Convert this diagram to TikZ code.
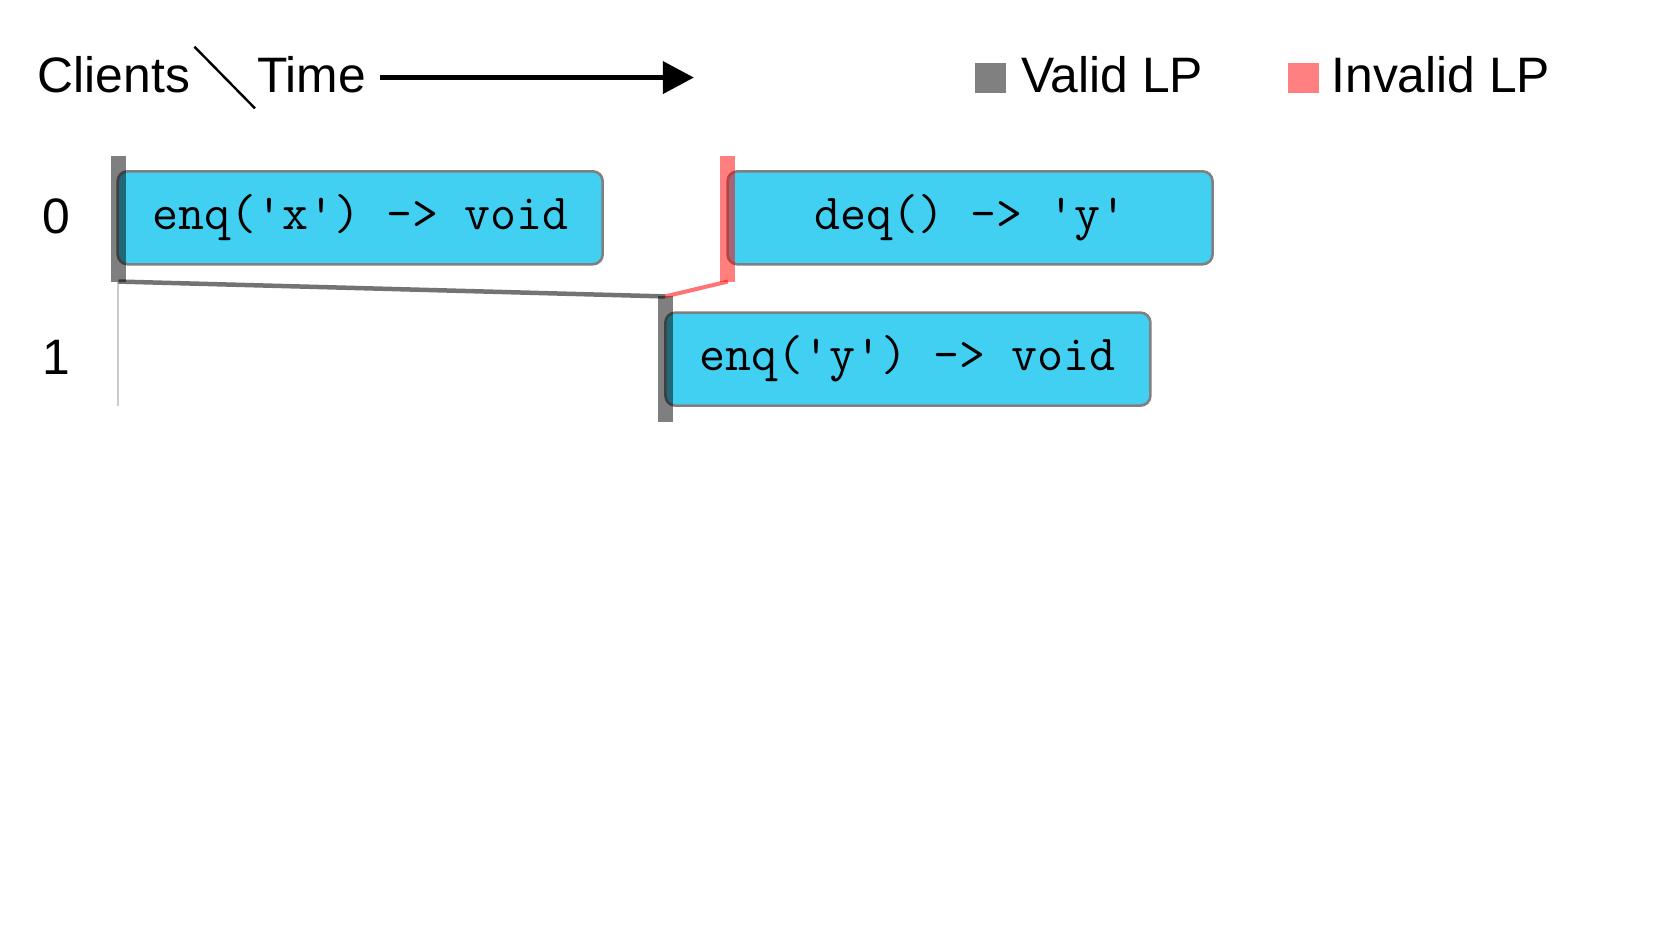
\documentclass[tikz,border=0pt]{standalone}
\usepackage{fontspec}
\setmainfont{Liberation Sans}
\usetikzlibrary{arrows.meta}
\definecolor{opfill}{RGB}{66,208,242}
\definecolor{opborder}{RGB}{128,128,128}
\definecolor{validc}{RGB}{128,128,128}
\definecolor{invalidc}{RGB}{255,128,128}
\begin{document}
\begin{tikzpicture}[x=1.0625pt,y=-1.0625pt,
  lbl/.style={font=\fontsize{49.8}{58}\selectfont, inner sep=0pt, anchor=base west},
  opbox/.style={draw=opborder, fill=opfill, line width=2.6pt, rounded corners=10pt,
    minimum width=485pt, minimum height=93pt, inner sep=0pt,
    font=\ttfamily\fontsize{50.5}{56}\selectfont},
  validbar/.style={fill=black, fill opacity=0.5},
  invalidbar/.style={fill=red, fill opacity=0.5},
  validlink/.style={draw=black, draw opacity=0.55, line width=4.5pt},
  invalidlink/.style={draw=red, draw opacity=0.55, line width=4pt},
  lifeline/.style={draw=black!20, line width=2pt}]
\useasboundingbox (0,0) rectangle (1568,882);
\fill[white] (0,0) rectangle (1568,882);

% header
\node[lbl] (clients) at (35.5,87) {Clients};
\node[lbl] (time) at (242,87) {Time};
\coordinate (s1) at (183,44);
\coordinate (s2) at (240,102);
\draw[line width=2.4pt] (s1) -- (s2);
\coordinate (a1) at (358,73);
\coordinate (a2) at (653,73);
\draw[line width=4.2pt, -{Triangle[length=31pt,width=32pt]}] (a1) -- (a2);

% legend
\fill[validc] (918,59) rectangle (947,88);
\node[lbl] (valid) at (961,87) {Valid LP};
\fill[invalidc] (1212,59) rectangle (1241,88);
\node[lbl] (invalid) at (1253,87) {Invalid LP};

% client labels
\node[lbl] (c0) at (40,220) {0};
\node[lbl] (c1) at (40,352) {1};

% lifeline of client 0
\coordinate (l0a) at (111,265);
\coordinate (l0b) at (111,382);
\path[lifeline] (l0a) -- (l0b);

% operations
\node[opbox] (op1) at (339,205) {enq('x') -> void};
\node[opbox] (op2) at (913,205) {deq() -> 'y'};
\node[opbox] (op3) at (854.5,338) {enq('y') -> void};

% LP bars
\coordinate (b1top) at (111.5,147);
\coordinate (b1bot) at (111.5,265);
\coordinate (b2top) at (685,147);
\coordinate (b2bot) at (685,265);
\coordinate (b3top) at (626,279);
\coordinate (b3bot) at (626,397);
\fill[validbar] (104,147) rectangle (119,265);
\fill[invalidbar] (678,147) rectangle (692,265);
\fill[validbar] (619,279) rectangle (633,397);

% LP links
\path[validlink] (b1bot) -- (b3top);
\path[invalidlink] (b3top) -- (b2bot);
\end{tikzpicture}
\end{document}
